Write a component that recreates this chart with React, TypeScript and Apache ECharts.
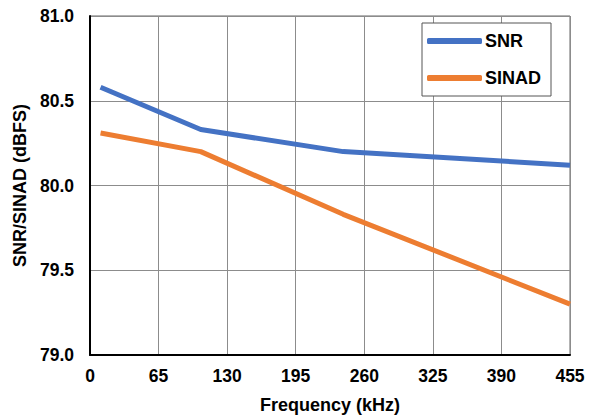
import React, { useEffect, useRef } from "react";
import * as echarts from "echarts";

const snrFreq = [10, 105, 240, 455];
const snrValues = [80.58, 80.33, 80.2, 80.12];
const sinadFreq = [10, 105, 240, 455];
const sinadValues = [80.31, 80.2, 79.83, 79.3];
const xTicks = [0, 65, 130, 195, 260, 325, 390, 455];
const yTicks = [79.0, 79.5, 80.0, 80.5, 81.0];

const FONT = "'Liberation Sans', Arial, sans-serif";

export default function App() {
  const ref = useRef<HTMLDivElement>(null);
  useEffect(() => {
    if (!ref.current) return;
    const chart = echarts.init(ref.current, undefined, { renderer: "svg" });
    chart.setOption({
      animation: false,
      backgroundColor: "#ffffff",
      textStyle: { fontFamily: FONT },
      grid: {
        left: 90,
        right: 26,
        top: 16,
        bottom: 65,
        show: true,
        borderColor: "#666",
        borderWidth: 1,
      },
      legend: {
        orient: "vertical",
        left: 422,
        top: 23,
        padding: [9, 10, 9, 5],
        itemGap: 19,
        itemWidth: 55,
        itemHeight: 6,
        icon: "roundRect",
        borderColor: "#555",
        borderWidth: 1,
        backgroundColor: "#fff",
        textStyle: {
          fontFamily: FONT,
          fontWeight: "bold",
          fontSize: 18,
          lineHeight: 18,
          color: "#000",
          padding: [0, 0, 0, -2],
        },
        data: ["SNR", "SINAD"],
      },
      xAxis: {
        type: "value",
        min: xTicks[0],
        max: xTicks[xTicks.length - 1],
        interval: 65,
        name: "Frequency (kHz)",
        nameLocation: "middle",
        nameGap: 41,
        nameTextStyle: { fontFamily: FONT, fontWeight: "bold", fontSize: 18, color: "#000" },
        axisLine: { show: true, lineStyle: { color: "#000", width: 2 } },
        axisTick: { show: false },
        axisLabel: { fontFamily: FONT, fontWeight: "bold", fontSize: 17.5, color: "#000", margin: 12 },
        splitLine: { show: true, lineStyle: { color: "#8c8c8c", width: 1 } },
      },
      yAxis: {
        type: "value",
        min: yTicks[0],
        max: yTicks[yTicks.length - 1],
        interval: 0.5,
        name: "SNR/SINAD (dBFS)",
        nameLocation: "middle",
        nameGap: 55,
        nameTextStyle: { fontFamily: FONT, fontWeight: "bold", fontSize: 18, color: "#000" },
        axisLine: { show: true, lineStyle: { color: "#000", width: 2 } },
        axisTick: { show: false },
        axisLabel: {
          fontFamily: FONT,
          fontWeight: "bold",
          fontSize: 17.5,
          color: "#000",
          margin: 16,
          formatter: (v: number) => v.toFixed(1),
        },
        splitLine: { show: true, lineStyle: { color: "#8c8c8c", width: 1 } },
      },
      series: [
        {
          name: "SNR",
          type: "line",
          data: snrFreq.map((f, i) => [f, snrValues[i]]),
          symbol: "none",
          color: "#4472C4",
          lineStyle: { width: 5, color: "#4472C4" },
        },
        {
          name: "SINAD",
          type: "line",
          data: sinadFreq.map((f, i) => [f, sinadValues[i]]),
          symbol: "none",
          color: "#ED7D31",
          lineStyle: { width: 5, color: "#ED7D31" },
        },
      ],
    });
    return () => chart.dispose();
  }, []);
  return <div ref={ref} style={{ width: 596, height: 420, position: "absolute", left: 0, top: 0 }} />;
}
